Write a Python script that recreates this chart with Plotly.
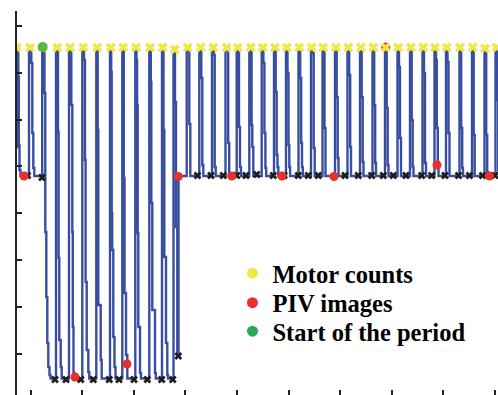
import plotly.graph_objects as go

# Motor position signal (sample-and-hold samples: time, position)
line_t = [
    16.5, 17.3, 18.3, 18.8, 19.5, 20.5,
    29.0, 31.3, 32.3, 33.3, 34.3,
    42.2, 44.5, 45.3, 46.3, 47.3, 48.3, 49.5, 50.5,
    56.0, 58.0, 58.6, 59.3, 60.7, 61.7,
    69.0, 71.3, 72.3, 72.8, 73.5, 74.5,
    82.3, 84.0, 85.0, 85.6, 86.7, 88.3, 89.3,
    96.3, 97.7, 98.3, 100.7, 101.7,
    110.0, 111.2, 111.7, 112.2, 113.3, 114.5, 115.5,
    122.3, 123.8, 124.5, 126.0, 127.3,
    135.3, 136.5, 137.1, 137.7, 138.3, 140.0, 141.0,
    149.3, 150.8, 151.3, 152.3, 155.0, 155.8,
    162.0, 163.5, 164.3, 166.0, 167.3, 168.0,
    173.5, 175.0, 176.0, 177.3, 178.5,
    186.7, 189.3, 190.3,
    199.3, 201.3, 202.3, 203.3,
    212.0, 213.7, 214.7, 215.7,
    225.5, 228.2, 229.2,
    236.7, 239.0, 240.0, 241.0,
    249.3, 251.6, 252.3, 253.3,
    261.7, 263.4, 264.4, 265.4, 266.2,
    274.0, 275.7, 276.7, 277.5, 278.3,
    286.0, 287.5, 288.5, 289.3, 290.1,
    298.5, 300.2, 301.2, 302.0, 302.8,
    311.0, 312.7, 313.7, 314.7,
    322.5, 324.5, 325.5,
    335.0, 336.7, 337.7, 338.5,
    347.5, 349.2, 350.2, 351.0,
    360.0, 361.7, 362.7, 363.5,
    372.5, 374.2, 375.2, 376.0,
    385.0, 386.7, 387.7, 388.5,
    397.5, 399.0, 400.0, 401.0,
    410.0, 411.7, 412.7, 413.5,
    422.5, 424.0, 425.0, 426.0,
    434.5, 436.0, 436.8, 437.8, 438.5,
    446.0, 447.5, 448.5, 449.5,
    459.5, 461.2, 462.2, 463.0,
    472.0, 473.7, 474.7,
    484.5, 486.2, 487.2, 488.0,
    495.5, 497.2, 498.2, 499.0,
]
line_y = [
    253, 352, 323, 255, 230, 224,
    352, 337, 267, 232, 224,
    352, 307, 168, 103, 57, 33, 25, 21.5,
    352, 268, 142, 60, 33, 21.5,
    352, 295, 168, 73, 27, 21.5,
    352, 340, 240, 118, 50, 28, 21.5,
    352, 270, 95, 40, 21.5,
    352, 328, 187, 150, 63, 33, 21.5,
    352, 222, 107, 45, 21.5,
    352, 340, 295, 167, 73, 27, 21.5,
    352, 318, 197, 90, 27, 21.5,
    352, 270, 143, 57, 25, 21.5,
    352, 298, 173, 44, 224,
    352, 276, 224,
    352, 322, 235, 224,
    352, 345, 233, 224,
    352, 257, 224,
    352, 273, 233, 224,
    352, 275, 253, 224,
    352, 337, 267, 232, 224,
    352, 308, 245, 233, 224,
    352, 327, 255, 233, 224,
    352, 322, 257, 233, 224,
    352, 347, 252, 224,
    352, 272, 224,
    352, 303, 242, 224,
    352, 325, 253, 224,
    352, 303, 238, 224,
    352, 295, 237, 224,
    352, 292, 235, 224,
    352, 333, 262, 224,
    352, 280, 233, 224,
    352, 327, 237, 224,
    352, 340, 272, 238, 224,
    352, 338, 267, 224,
    352, 272, 232, 224,
    352, 265, 224,
    352, 265, 228, 224,
    352, 300, 230, 224,
]

# Motor counts (peaks)
motor_t = [16.7, 30.0, 42.7, 57.3, 70.0, 83.3, 97.3, 110.7, 123.3, 136.0, 150.0,
           162.7, 174.7, 187.7, 200.7, 213.3, 226.7, 237.7, 250.7, 262.7, 275.0,
           286.7, 299.3, 311.7, 323.3, 336.0, 348.3, 361.0, 373.3, 385.7, 398.3,
           411.0, 423.3, 435.0, 446.7, 460.0, 472.7, 485.0, 496.7]
motor_y = [352.5, 352.5, 352.5, 352.5, 352.5, 352.5, 352.5, 352.5, 352.5, 352.5, 352.5,
           352.5, 350.5, 352.5, 352.5, 352.5, 352.5, 352.5, 352.5, 352.5, 352.5,
           352.5, 352.5, 352.5, 352.5, 352.5, 352.5, 352.5, 352.5, 352.5, 352.5,
           352.5, 352.5, 352.5, 352.5, 352.5, 352.5, 351.5, 352.5]

# Troughs (black crosses)
trough_t = [27.5, 42.0, 55.0, 66.0, 80.7, 93.3, 109.3, 119.0, 134.0, 147.3, 161.7,
            172.7, 178.3, 197.5, 211.0, 223.3, 236.7, 246.0, 256.7, 273.3, 284.0,
            298.3, 308.3, 318.3, 345.0, 358.3, 371.7, 383.3, 393.3, 406.0, 421.7,
            431.7, 445.0, 458.5, 469.5, 482.5, 495.0]
trough_y = [224.5, 222.5, 20.5, 20.5, 20.5, 20.5, 20.5, 20.5, 20.5, 20.5, 20.5,
            20.5, 44.0, 224.5, 224.5, 224.5, 224.5, 224.5, 225.5, 224.5, 224.5,
            224.5, 224.5, 224.5, 224.5, 224.5, 224.5, 224.5, 224.5, 224.5, 224.5,
            224.5, 224.5, 224.5, 224.5, 224.5, 224.5]

# PIV images (red)
piv_t = [24.0, 75.0, 127.0, 178.3, 231.7, 282.0, 334.0, 385.7, 437.0, 489.5]
piv_y = [224.0, 23.0, 36.0, 223.5, 224.0, 224.0, 223.5, 353.0, 235.0, 224.0]

# Start of the period (green)
start_t = [42.7]
start_y = [353.0]

legend_names = ["Motor counts", "PIV images", "Start of the period"]

BLUE = "#3A4EA0"
YELLOW = "#EFE84B"
RED = "#E8302E"
GREEN = "#55B848"

fig = go.Figure()
fig.add_trace(go.Scatter(x=line_t, y=line_y, mode="lines", line=dict(color=BLUE, width=2.4, shape="hv"),
                         showlegend=False, hoverinfo="skip"))
fig.add_trace(go.Scatter(x=trough_t, y=trough_y, mode="markers",
                         marker=dict(symbol="x", size=7, color="#1E1E1E", line=dict(width=0)),
                         showlegend=False))
fig.add_trace(go.Scatter(x=piv_t, y=piv_y, mode="markers",
                         marker=dict(symbol="circle", size=9, color=RED, line=dict(width=0)),
                         showlegend=False))
fig.add_trace(go.Scatter(x=motor_t, y=motor_y, mode="markers",
                         marker=dict(symbol="x", size=9, color=YELLOW, line=dict(width=0)),
                         showlegend=False))
fig.add_trace(go.Scatter(x=start_t, y=start_y, mode="markers",
                         marker=dict(symbol="circle", size=10, color=GREEN, line=dict(width=0)),
                         showlegend=False))

# legend entries (one legend box per entry for exact row spacing)
legend_cols = ["#EDE84C", "#EC2F2F", "#2AA952"]
legend_ids = ["legend", "legend2", "legend3"]
legend_ys = [0.3755, 0.2987, 0.2245]
for name, col, lid in zip(legend_names, legend_cols, legend_ids):
    fig.add_trace(go.Scatter(x=[None], y=[None], mode="markers", name=name, legend=lid,
                             marker=dict(symbol="circle", size=11, color=col)))

legend_font = dict(family="Liberation Serif", size=24.5, color="black", weight="bold")
layout_legends = {}
for lid, ly in zip(legend_ids, legend_ys):
    layout_legends[lid] = dict(x=0.448, y=ly, xanchor="left", yanchor="top",
                               bgcolor="rgba(0,0,0,0)", borderwidth=0, font=legend_font)

fig.update_layout(
    width=498, height=395,
    margin=dict(l=17, r=0, t=11, b=0),
    paper_bgcolor="white", plot_bgcolor="white",
    xaxis=dict(range=[17, 498], showgrid=False, zeroline=False, showline=False,
               ticks="inside", tick0=30.5, dtick=51.6, ticklen=5, tickwidth=2,
               tickcolor="#222", showticklabels=False),
    yaxis=dict(range=[5, 389], showgrid=False, zeroline=False, showline=True,
               linecolor="#222", linewidth=2,
               ticks="inside", tick0=46, dtick=46.9, ticklen=5, tickwidth=2,
               tickcolor="#222", showticklabels=False),
    showlegend=True,
    **layout_legends,
)

fig.write_html("out.html", config={"displayModeBar": False},
               post_script="document.body.style.margin='0px';document.body.style.padding='0px';")
